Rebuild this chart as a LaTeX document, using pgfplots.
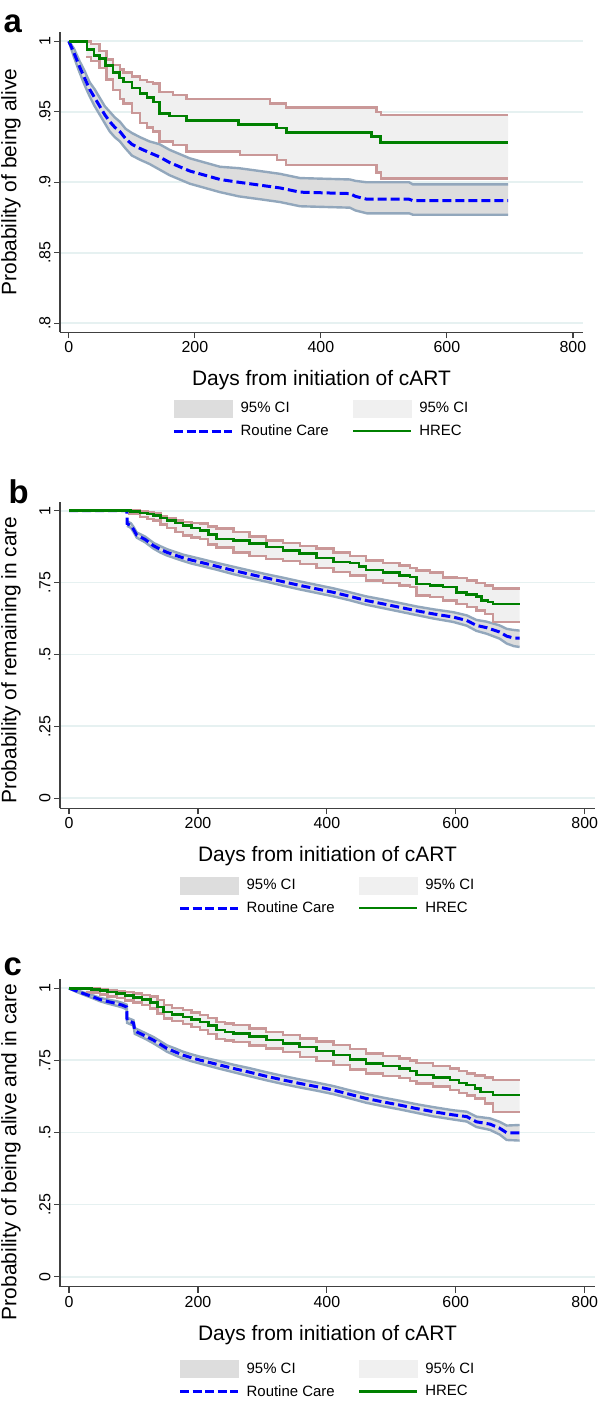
\documentclass[border=0pt]{standalone}
\usepackage{fontspec}
\setmainfont{Liberation Sans}
\usepackage{pgfplots}
\usepackage{pgfplotstable}
\pgfplotsset{compat=1.18}
\usepgfplotslibrary{fillbetween}

\definecolor{cidark}{RGB}{221,221,221}
\definecolor{cilight}{RGB}{240,240,240}
\definecolor{rcline}{RGB}{146,167,188}
\definecolor{hrline}{RGB}{202,152,152}
\definecolor{rcblue}{RGB}{0,0,255}
\definecolor{hrgreen}{RGB}{0,128,0}
\definecolor{gridc}{RGB}{230,241,241}

% ---------- panel a: survival ----------
\pgfplotstableread{
x y
0 1.000
8 0.992
17 0.982
25 0.974
33 0.966
41 0.960
49 0.954
57 0.948
65 0.943
73 0.939
81 0.936
90 0.931
100 0.927
113 0.924
128 0.921
144 0.918
160 0.914
176 0.911
192 0.908
208 0.906
224 0.904
240 0.902
270 0.900
303 0.898
335 0.896
367 0.893
446 0.892
455 0.890
473 0.888
540 0.888
546 0.887
697 0.887
}\rcAest
\pgfplotstableread{
x lo hi
0 1.000 1.000
8 0.989 0.995
17 0.978 0.986
25 0.969 0.979
33 0.961 0.971
41 0.954 0.966
49 0.948 0.960
57 0.942 0.954
65 0.936 0.950
73 0.932 0.946
81 0.929 0.943
90 0.924 0.938
100 0.919 0.935
113 0.916 0.932
128 0.913 0.929
144 0.909 0.927
160 0.905 0.923
176 0.902 0.920
192 0.899 0.917
208 0.897 0.915
224 0.895 0.913
240 0.893 0.911
270 0.890 0.910
303 0.888 0.908
335 0.886 0.906
367 0.883 0.903
446 0.882 0.902
455 0.880 0.901
473 0.878 0.900
540 0.878 0.900
546 0.877 0.8985
697 0.877 0.8985
}\rcAci
\pgfplotstableread{
x y
0 1.000
29 0.994
40 0.990
49 0.988
58 0.983
70 0.978
80 0.974
87 0.971
100 0.967
113 0.963
124 0.960
134 0.957
144 0.949
160 0.947
187 0.944
269 0.941
330 0.9385
345 0.9355
480 0.9323
495 0.9284
697 0.9284
}\hrAest
\pgfplotstableread{
x lo hi
28 0.9887 1.000
35 0.986 0.998
49 0.981 0.993
60 0.973 0.987
70 0.9655 0.983
81 0.959 0.980
87 0.956 0.978
100 0.949 0.975
113 0.942 0.9726
124 0.939 0.971
134 0.936 0.970
144 0.929 0.964
165 0.9265 0.962
187 0.9217 0.959
272 0.9194 0.959
319 0.9194 0.956
330 0.9158 0.956
345 0.9123 0.953
480 0.9123 0.953
488 0.907 0.950
495 0.9028 0.9477
697 0.9028 0.9477
}\hrAci

% ---------- panel b: retention ----------
\pgfplotstableread{
x y
0 1.000
89.9 1.000
90 0.955
96 0.948
100 0.935
105 0.915
118 0.900
131 0.878
142 0.865
152 0.855
165 0.845
177 0.836
190 0.828
203 0.821
230 0.806
255 0.792
280 0.779
306 0.766
332 0.753
358 0.740
384 0.728
410 0.716
436 0.702
461 0.6875
487 0.676
513 0.664
539 0.652
565 0.641
596 0.630
617 0.618
632 0.601
648 0.593
668 0.578
679 0.5636
690 0.557
699 0.557
}\rcBest
\pgfplotstableread{
x lo hi
90 0.947 0.963
96 0.940 0.956
100 0.926 0.944
105 0.906 0.924
118 0.890 0.910
131 0.868 0.888
142 0.854 0.876
152 0.844 0.866
165 0.834 0.856
177 0.825 0.847
190 0.816 0.840
203 0.809 0.833
230 0.794 0.818
255 0.779 0.805
280 0.766 0.792
306 0.753 0.779
332 0.739 0.767
358 0.726 0.754
384 0.714 0.742
410 0.702 0.730
436 0.688 0.716
461 0.673 0.702
487 0.661 0.691
513 0.649 0.679
539 0.637 0.667
565 0.625 0.657
596 0.613 0.647
617 0.600 0.636
632 0.582 0.620
648 0.572 0.614
668 0.555 0.601
679 0.538 0.589
690 0.529 0.585
699 0.526 0.583
}\rcBci
\pgfplotstableread{
x y
0 1.000
95 0.997
110 0.992
122 0.988
131 0.983
142 0.975
152 0.965
165 0.957
177 0.948
190 0.940
203 0.931
216 0.918
229 0.9016
255 0.896
280 0.885
306 0.873
332 0.862
358 0.850
384 0.836
410 0.821
436 0.818
450 0.806
461 0.794
487 0.784
513 0.774
529 0.769
539 0.745
560 0.740
580 0.734
601 0.716
617 0.709
632 0.701
640 0.6875
650 0.682
658 0.676
699 0.676
}\hrBest
\pgfplotstableread{
x lo hi
92 0.990 1.000
110 0.978 0.997
122 0.970 0.994
131 0.965 0.990
142 0.952 0.982
152 0.940 0.974
165 0.925 0.965
177 0.914 0.960
190 0.906 0.957
203 0.9016 0.955
216 0.882 0.945
229 0.872 0.938
255 0.855 0.925
280 0.843 0.910
306 0.832 0.896
332 0.825 0.887
358 0.815 0.878
384 0.800 0.868
410 0.786 0.855
436 0.774 0.843
461 0.757 0.826
487 0.748 0.817
513 0.740 0.809
529 0.735 0.800
539 0.705 0.792
560 0.700 0.785
580 0.6875 0.768
601 0.676 0.765
617 0.664 0.757
632 0.653 0.748
645 0.640 0.740
658 0.612 0.729
699 0.612 0.729
}\hrBci

% ---------- panel c: alive and in care ----------
\pgfplotstableread{
x y
0 1.000
10 0.992
22 0.982
35 0.972
48 0.961
60 0.954
74 0.947
82 0.942
89.5 0.935
90 0.889
100 0.880
102 0.852
118 0.835
131 0.820
142 0.805
152 0.791
165 0.779
177 0.768
190 0.759
203 0.751
230 0.736
255 0.722
280 0.709
306 0.695
332 0.682
358 0.670
384 0.659
410 0.647
436 0.632
461 0.618
487 0.606
513 0.595
539 0.583
565 0.572
596 0.561
617 0.555
632 0.537
653 0.529
668 0.515
679 0.499
699 0.499
}\rcCest
\pgfplotstableread{
x lo hi
0 1.000 1.000
10 0.989 0.995
22 0.978 0.986
35 0.967 0.977
48 0.955 0.967
60 0.947 0.961
74 0.939 0.955
82 0.934 0.950
89.5 0.927 0.943
90 0.880 0.898
100 0.871 0.889
102 0.842 0.862
118 0.825 0.845
131 0.809 0.831
142 0.794 0.816
152 0.780 0.802
165 0.767 0.791
177 0.756 0.780
190 0.747 0.771
203 0.739 0.763
230 0.723 0.749
255 0.709 0.735
280 0.695 0.723
306 0.681 0.709
332 0.668 0.696
358 0.656 0.684
384 0.645 0.673
410 0.633 0.661
436 0.618 0.646
461 0.603 0.633
487 0.591 0.621
513 0.580 0.610
539 0.568 0.598
565 0.556 0.588
596 0.545 0.577
617 0.538 0.572
632 0.519 0.555
653 0.509 0.549
668 0.493 0.537
679 0.474 0.524
699 0.472 0.526
}\rcCci
\pgfplotstableread{
x y
0 1.000
35 0.996
48 0.992
60 0.987
74 0.982
87 0.975
100 0.968
113 0.960
126 0.950
137 0.935
147 0.918
160 0.910
177 0.901
190 0.892
203 0.883
216 0.870
229 0.855
242 0.849
255 0.843
280 0.832
306 0.820
332 0.808
358 0.797
384 0.782
410 0.768
436 0.754
461 0.740
487 0.731
513 0.722
529 0.713
539 0.699
565 0.690
591 0.682
605 0.672
617 0.664
630 0.653
638 0.641
658 0.630
699 0.630
}\hrCest
\pgfplotstableread{
x lo hi
27 0.988 1.000
35 0.985 0.999
48 0.979 0.996
60 0.972 0.993
74 0.966 0.989
87 0.958 0.986
100 0.950 0.982
113 0.941 0.977
126 0.930 0.971
137 0.913 0.960
147 0.895 0.941
160 0.886 0.932
177 0.876 0.924
190 0.866 0.916
203 0.855 0.907
216 0.841 0.896
229 0.825 0.884
242 0.819 0.878
255 0.814 0.872
280 0.802 0.861
306 0.791 0.849
332 0.779 0.838
358 0.762 0.826
384 0.748 0.815
410 0.734 0.803
436 0.719 0.789
461 0.705 0.774
487 0.696 0.766
513 0.688 0.757
529 0.679 0.749
539 0.670 0.740
565 0.660 0.731
591 0.647 0.722
605 0.637 0.713
617 0.628 0.705
630 0.618 0.698
645 0.600 0.690
658 0.572 0.682
699 0.572 0.682
}\hrCci

% filled confidence band between hi and lo of a table; #4 = plot handler
\newcommand{\ciband}[4]{%
  \addplot[draw=none, #4, forget plot, name path=#2u] table[x=x, y=hi] {#1};
  \addplot[draw=none, #4, forget plot, name path=#2l] table[x=x, y=lo] {#1};
  \addplot[fill=#3, draw=none, forget plot] fill between[of=#2u and #2l];
}
\newcommand{\cilines}[3]{%
  \addplot[#2, line width=2.4bp, #3, forget plot] table[x=x, y=hi] {#1};
  \addplot[#2, line width=2.4bp, #3, forget plot] table[x=x, y=lo] {#1};
}
\newcommand{\kmlegend}{%
  \addlegendimage{legend image code/.code={\fill[cidark] (0bp,-8.5bp) rectangle (58bp,8.5bp);}}
  \addlegendentry{95\% CI}
  \addlegendimage{legend image code/.code={\fill[cilight] (0bp,-8.5bp) rectangle (58bp,8.5bp);}}
  \addlegendentry{95\% CI}
  \addlegendimage{legend image code/.code={\draw[rcblue, line width=3bp, dash pattern=on 9bp off 3.5bp] (0bp,0bp) -- (58bp,0bp);}}
  \addlegendentry{Routine Care}
  \addlegendimage{legend image code/.code={\draw[hrgreen, line width=2.6bp] (0bp,0bp) -- (58bp,0bp);}}
  \addlegendentry{HREC}
}

\pgfplotsset{
  km/.style={
    scale only axis,
    anchor=north west,
    xmin=-14, xmax=816,
    xtick={0,200,400,600,800},
    axis x line*=bottom, axis y line*=left,
    axis line style={black!75, line width=1.2bp},
    tick align=outside, major tick length=6bp,
    tick style={black!75, line width=1.2bp},
    ymajorgrids, grid style={gridc, line width=1.8bp},
    /pgf/number format/assume math mode=true,
    tick label style={font=\fontsize{16}{16}\selectfont, black},
    yticklabel style={rotate=90, anchor=south},
    every axis x label/.style={at={(axis description cs:0.5,0)}, anchor=center, yshift=-48bp},
    every axis y label/.style={at={(axis description cs:0,0.5)}, xshift=-49bp, rotate=90, anchor=center},
    label style={font=\fontsize{21}{21}\selectfont},
    xlabel={Days from initiation of cART},
    legend columns=2,
    legend cell align=left,
    legend style={at={(axis description cs:0.5,0)}, anchor=north, yshift=-67bp,
      draw=none, fill=none, inner sep=0pt, row sep=6bp,
      font=\fontsize{15}{15}\selectfont, nodes={inner sep=2bp},
      /tikz/every even column/.append style={column sep=21bp},
      /tikz/every odd column/.append style={column sep=5bp}},
  }
}

\begin{document}
\begin{tikzpicture}

\node[anchor=base west, font=\fontsize{33}{33}\selectfont\bfseries] at (0bp,-32bp) {a};
\node[anchor=base west, font=\fontsize{33}{33}\selectfont\bfseries] at (5bp,-503bp) {b};
\node[anchor=base west, font=\fontsize{33}{33}\selectfont\bfseries] at (0bp,-975bp) {c};

% panel a
\begin{axis}[km, at={(60bp,-32bp)}, width=523bp, height=300.3bp,
  ymin=0.7936, ymax=1.0066,
  ytick={0.8,0.85,0.9,0.95,1}, yticklabels={.8,.85,.9,.95,1},
  ylabel={Probability of being alive}]
\ciband{\rcAci}{ra}{cidark}{sharp plot}
\ciband{\hrAci}{ha}{cilight}{const plot}
\cilines{\rcAci}{rcline}{sharp plot}
\cilines{\hrAci}{hrline}{const plot}
\addplot[rcblue, line width=3bp, dash pattern=on 9bp off 4bp, sharp plot, forget plot] table[x=x, y=y] {\rcAest};
\addplot[hrgreen, line width=2.6bp, const plot, forget plot] table[x=x, y=y] {\hrAest};
\kmlegend
\end{axis}

% panel b
\begin{axis}[km, at={(60bp,-501.7bp)}, width=535bp, height=306.6bp,
  ymin=-0.0348, ymax=1.031,
  ytick={0,0.25,0.5,0.75,1}, yticklabels={0,.25,.5,.75,1},
  ylabel={Probability of remaining in care},
  ylabel style={xshift=-5bp},
  legend style={yshift=-1bp}]
\ciband{\rcBci}{rb}{cidark}{sharp plot}
\ciband{\hrBci}{hb}{cilight}{const plot}
\cilines{\rcBci}{rcline}{sharp plot}
\cilines{\hrBci}{hrline}{const plot}
\addplot[rcblue, line width=3bp, dash pattern=on 9bp off 4bp, sharp plot, forget plot] table[x=x, y=y] {\rcBest};
\addplot[hrgreen, line width=2.6bp, const plot, forget plot] table[x=x, y=y] {\hrBest};
\kmlegend
\end{axis}

% panel c
\begin{axis}[km, at={(60bp,-979.3bp)}, width=535bp, height=307.4bp,
  ymin=-0.0347, ymax=1.031,
  ytick={0,0.25,0.5,0.75,1}, yticklabels={0,.25,.5,.75,1},
  ylabel={Probability of being alive and in care},
  ylabel style={xshift=-19bp},
  legend style={yshift=-6bp}]
\ciband{\rcCci}{rc}{cidark}{sharp plot}
\ciband{\hrCci}{hc}{cilight}{const plot}
\cilines{\rcCci}{rcline}{sharp plot}
\cilines{\hrCci}{hrline}{const plot}
\addplot[rcblue, line width=3bp, dash pattern=on 9bp off 4bp, sharp plot, forget plot] table[x=x, y=y] {\rcCest};
\addplot[hrgreen, line width=2.6bp, const plot, forget plot] table[x=x, y=y] {\hrCest};
\kmlegend
\end{axis}

\pgfresetboundingbox
\path[use as bounding box] (0,0) rectangle (600bp,-1401bp);
\end{tikzpicture}
\end{document}
